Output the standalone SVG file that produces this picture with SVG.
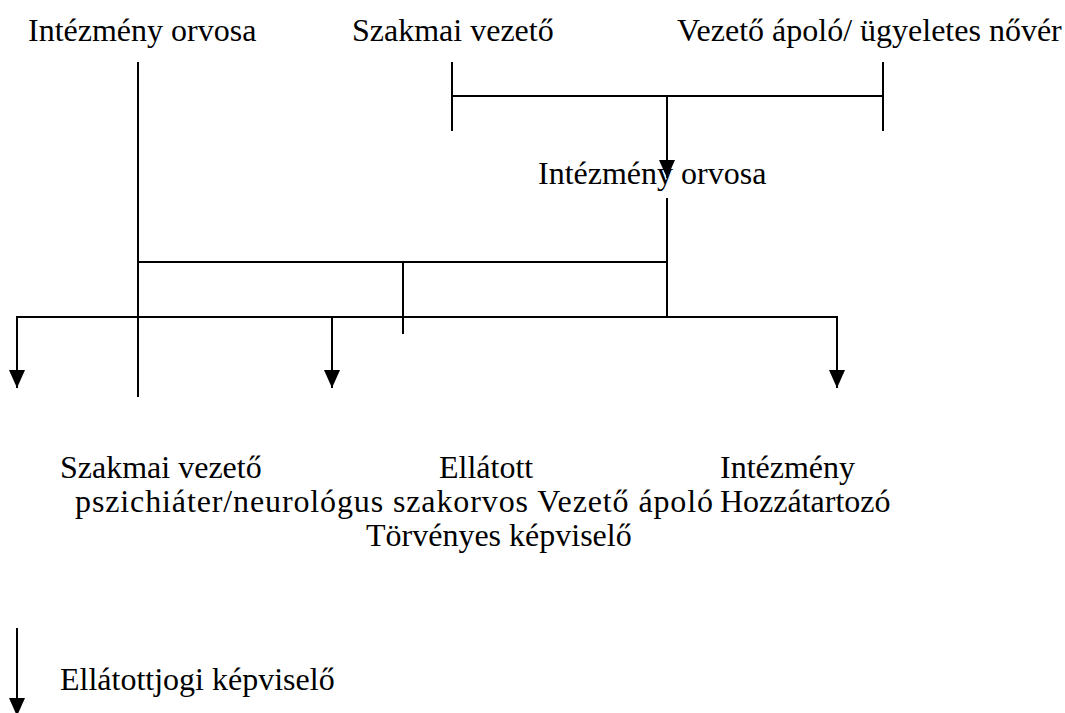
<svg xmlns="http://www.w3.org/2000/svg" width="1065" height="713" viewBox="0 0 1065 713">
<style>
text{font-family:"Liberation Serif","Times New Roman","DejaVu Serif",serif;font-size:32px;fill:#000}
.ln{stroke:#000;stroke-width:2;fill:none}
.ar{stroke:#000;stroke-width:2;fill:none;marker-end:url(#ah)}
</style>
<defs>
<marker id="ah" viewBox="0 0 18 16" refX="18" refY="8" markerWidth="18" markerHeight="16" markerUnits="userSpaceOnUse" orient="auto">
<path d="M0,0 L18,8 L0,16 z" fill="#000"/>
</marker>
</defs>
<rect width="1065" height="713" fill="#fff"/>
<g id="connectors">
<line class="ln" x1="138" y1="62" x2="138" y2="397"/>
<line class="ln" x1="452" y1="62" x2="452" y2="131"/>
<line class="ln" x1="883" y1="62" x2="883" y2="131"/>
<line class="ln" x1="452" y1="96" x2="883" y2="96"/>
<line class="ar" x1="667" y1="96" x2="667" y2="178"/>
<line class="ln" x1="667" y1="198" x2="667" y2="318"/>
<line class="ln" x1="138" y1="262" x2="667" y2="262"/>
<line class="ln" x1="403" y1="262" x2="403" y2="334"/>
<line class="ar" x1="17" y1="316" x2="17" y2="388"/>
<line class="ln" x1="16" y1="317" x2="838" y2="317"/>
<line class="ar" x1="332" y1="316" x2="332" y2="388"/>
<line class="ar" x1="837" y1="316" x2="837" y2="388"/>
<line class="ar" x1="17" y1="628" x2="17" y2="716"/>
</g>
<g id="n_intezmeny_orvosa_top"><text x="28" y="41">Intézmény orvosa</text></g>
<g id="n_szakmai_vezeto_top"><text x="352" y="41">Szakmai vezető</text></g>
<g id="n_vezeto_apolo_top"><text x="677" y="41">Vezető ápoló/ ügyeletes nővér</text></g>
<g id="n_intezmeny_orvosa_mid"><text x="538" y="184">Intézmény orvosa</text></g>
<g id="n_szakmai_vezeto_bottom">
<text x="60" y="478">Szakmai vezető</text>
<text x="75" y="512" textLength="638" lengthAdjust="spacing">pszichiáter/neurológus szakorvos Vezető ápoló</text>
</g>
<g id="n_ellatott">
<text x="439" y="478">Ellátott</text>
<text x="366" y="546">Törvényes képviselő</text>
</g>
<g id="n_intezmeny_bottom">
<text x="720" y="478">Intézmény</text>
<text x="720" y="512">Hozzátartozó</text>
</g>
<g id="n_ellatottjogi"><text x="60" y="690">Ellátottjogi képviselő</text></g>
</svg>
